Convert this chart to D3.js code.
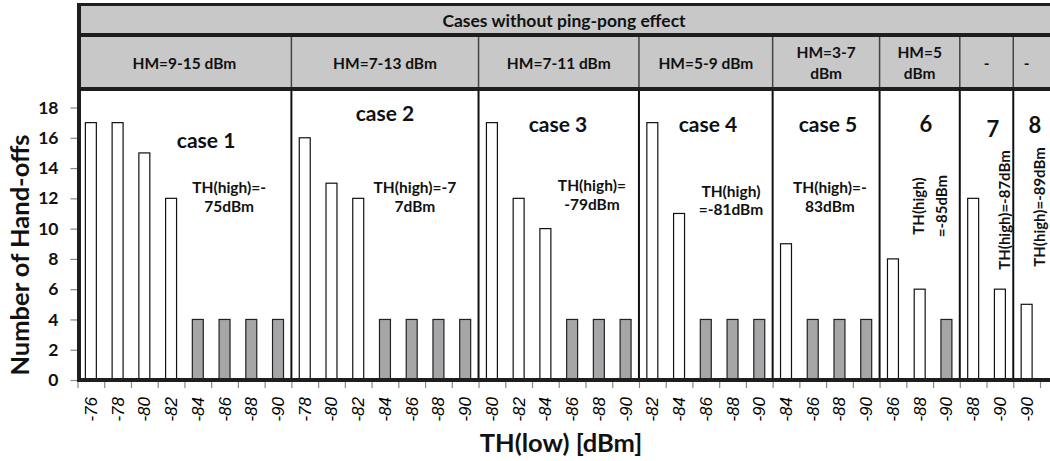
<!DOCTYPE html>
<html>
<head>
<meta charset="utf-8">
<script src="https://cdn.jsdelivr.net/npm/d3@7"></script>
<style>
  html, body { margin: 0; padding: 0; background: #fff; }
  svg { display: block; }
</style>
</head>
<body>
<svg id="chart" width="1050" height="461"></svg>
<script>
// ---------------- DATA ----------------
const headerTitle = "Cases without ping-pong effect";
const caseLabels = ["case 1", "case 2", "case 3", "case 4", "case 5", "6", "7", "8"];
const hmLabels = [["HM=9-15 dBm"], ["HM=7-13 dBm"], ["HM=7-11 dBm"], ["HM=5-9 dBm"], ["HM=3-7", "dBm"], ["HM=5", "dBm"], ["-"], ["-"]];
const thHighLabels = [["TH(high)=-", "75dBm"], ["TH(high)=-7", "7dBm"], ["TH(high)=", "-79dBm"], ["TH(high)", "=-81dBm"], ["TH(high)=-", "83dBm"], ["TH(high)", "=-85dBm"], ["TH(high)=-87dBm"], ["TH(high)=-89dBm"]];
// TH(low) tick labels per case
const thLowTicks = [
  ["-76", "-78", "-80", "-82", "-84", "-86", "-88", "-90"],
  ["-78", "-80", "-82", "-84", "-86", "-88", "-90"],
  ["-80", "-82", "-84", "-86", "-88", "-90"],
  ["-82", "-84", "-86", "-88", "-90"],
  ["-84", "-86", "-88", "-90"],
  ["-86", "-88", "-90"],
  ["-88", "-90"],
  ["-90"]
];
// Number of hand-offs: open (white) bars and shaded (grey) bars, per case
const openBars = [
  [17, 17, 15, 12, null, null, null, null],
  [16, 13, 12, null, null, null, null],
  [17, 12, 10, null, null, null],
  [17, 11, null, null, null],
  [9, null, null, null],
  [8, 6, null],
  [12, 6],
  [5]
];
const shadedBars = [
  [null, null, null, null, 4, 4, 4, 4],
  [null, null, null, 4, 4, 4, 4],
  [null, null, null, 4, 4, 4],
  [null, null, 4, 4, 4],
  [null, 4, 4, 4],
  [null, null, 4],
  [null, null],
  [null]
];
const yTicks = [0, 2, 4, 6, 8, 10, 12, 14, 16, 18];
const xTitle = "TH(low) [dBm]";
const yTitle = "Number of Hand-offs";

// ---------------- LAYOUT ----------------
const FONT = "Lato, 'Open Sans', sans-serif";
const svg = d3.select("#chart");
const plotL = 77.5, plotR = 1040, frameR = 1053;
const y0px = 380, y18px = 107.5;
const headTop = 4.5, headMid = 35, headBot = 89;

// flatten categories
const cats = [];
thLowTicks.forEach((arr, ci) => arr.forEach((lab, j) => {
  cats.push({ id: cats.length, caseIdx: ci, label: lab, open: openBars[ci][j], shaded: shadedBars[ci][j] });
}));
const N = cats.length;

const x = d3.scaleBand().domain(cats.map(d => d.id)).range([plotL, plotR]).paddingInner(0.59).paddingOuter(0.295);
const xi = d3.scaleLinear().domain([0, N]).range([plotL, plotR]); // category boundaries
const y = d3.scaleLinear().domain([0, 18]).range([y0px, y18px]);

// case boundaries (index units)
const caseStart = [];
let acc = 0;
thLowTicks.forEach(a => { caseStart.push(acc); acc += a.length; });
const caseEnd = caseStart.map((s, i) => s + thLowTicks[i].length);

// annotation layout in data units: [category-index position, value]
const caseLabelAt = [[4.81, 15.32], [11.5, 17.11], [17.97, 16.38], [23.58, 16.38], [28.07, 16.38], [31.73, 16.38], [34.24, 16.05], [35.81, 16.31]];
const thLabelAt = [[5.67, 12.35], [12.62, 12.35], [19.24, 12.48], [24.44, 12.09], [28.14, 12.35], [31.45, 11.49], [34.65, 11.23], [35.96, 11.43]];

// ---------------- HEADER ----------------
svg.append("rect").attr("x", 79).attr("y", headTop).attr("width", frameR - 79).attr("height", headBot - headTop)
  .attr("fill", "#c8c8c8");

svg.append("text").attr("x", 564).attr("y", (headTop + headMid) / 2 + 0.5)
  .attr("text-anchor", "middle").attr("dominant-baseline", "central")
  .style("font-family", FONT).style("font-weight", "bold").style("font-size", "17.5px").attr("fill", "#111")
  .text(headerTitle);

// inner header dividers
svg.append("g").selectAll("line").data(caseEnd.slice(0, -1)).join("line")
  .attr("x1", d => xi(d)).attr("x2", d => xi(d)).attr("y1", headMid).attr("y2", headBot)
  .attr("stroke", "#444").attr("stroke-width", 1.5);

// HM labels
const hmG = svg.append("g");
hmLabels.forEach((lines, i) => {
  const cx = (xi(caseStart[i]) + xi(caseEnd[i])) / 2;
  const cy = (headMid + headBot) / 2 + 0.5;
  const lh = 21;
  lines.forEach((t, k) => {
    hmG.append("text").attr("x", cx).attr("y", cy + (k - (lines.length - 1) / 2) * lh)
      .attr("text-anchor", "middle").attr("dominant-baseline", "central")
      .style("font-family", FONT).style("font-weight", "bold").style("font-size", "15.5px").attr("fill", "#111")
      .text(t);
  });
});

// ---------------- BARS ----------------
svg.append("g").selectAll("rect").data(cats.filter(d => d.open != null)).join("rect")
  .attr("x", d => x(d.id)).attr("width", x.bandwidth())
  .attr("y", d => y(d.open)).attr("height", d => y(0) - y(d.open))
  .attr("fill", "#fff").attr("stroke", "#111").attr("stroke-width", 1.2);

svg.append("g").selectAll("rect").data(cats.filter(d => d.shaded != null)).join("rect")
  .attr("x", d => x(d.id)).attr("width", x.bandwidth())
  .attr("y", d => y(d.shaded)).attr("height", d => y(0) - y(d.shaded))
  .attr("fill", "#a6a6a8").attr("stroke", "#222").attr("stroke-width", 1.2);

// plot-area case dividers
svg.append("g").selectAll("line").data(caseEnd.slice(0, -1)).join("line")
  .attr("x1", d => xi(d)).attr("x2", d => xi(d)).attr("y1", headBot).attr("y2", y0px)
  .attr("stroke", "#111").attr("stroke-width", 2);

// ---------------- ANNOTATIONS ----------------
const annG = svg.append("g").style("font-family", FONT).style("font-weight", "bold").attr("fill", "#111");
caseLabels.forEach((t, i) => {
  annG.append("text").attr("x", xi(caseLabelAt[i][0])).attr("y", y(caseLabelAt[i][1]))
    .attr("text-anchor", "middle").style("font-size", i >= 5 ? "22px" : "21px").text(t);
});
thHighLabels.forEach((lines, i) => {
  const [ix, v] = thLabelAt[i];
  if (i < 5) {
    lines.forEach((t, k) => {
      annG.append("text").attr("x", xi(ix)).attr("y", y(v) + k * 18.5)
        .attr("text-anchor", "middle").style("font-size", "15.5px").text(t);
    });
  } else {
    lines.forEach((t, k) => {
      const cx = xi(ix) + k * 22.5;
      annG.append("text").attr("transform", `translate(${cx},${y(v)}) rotate(-90)`)
        .attr("text-anchor", "middle").attr("dominant-baseline", "central")
        .style("font-size", "15px").text(t);
    });
  }
});

// ---------------- AXES ----------------
// y axis
const yAxis = svg.append("g").attr("transform", `translate(${plotL},0)`)
  .call(d3.axisLeft(y).tickValues(yTicks).tickSize(7).tickPadding(12));
yAxis.select(".domain").remove();
yAxis.selectAll(".tick line").attr("stroke", "#888").attr("stroke-width", 1.2);
yAxis.selectAll(".tick text").style("font-family", FONT).style("font-weight", "bold").style("font-size", "17.5px").attr("fill", "#111");

// x axis tick marks at category boundaries
const xTickAxis = svg.append("g").attr("transform", `translate(0,${y0px})`)
  .call(d3.axisBottom(xi).tickValues(d3.range(N + 1)).tickFormat("").tickSize(8));
xTickAxis.select(".domain").remove();
xTickAxis.selectAll(".tick line").attr("stroke", "#888").attr("stroke-width", 1.2);

// x axis labels
const xLab = svg.append("g").attr("transform", `translate(0,${y0px})`)
  .call(d3.axisBottom(x).tickFormat(i => cats[i].label).tickSize(0));
xLab.select(".domain").remove();
xLab.selectAll(".tick text")
  .attr("transform", "translate(0.5,17) rotate(-90)")
  .attr("x", 0).attr("y", 0).attr("dy", null)
  .attr("text-anchor", "end").attr("dominant-baseline", "central")
  .style("font-family", "'Liberation Sans', Arial, sans-serif").style("font-style", "italic")
  .style("font-size", "17px").attr("fill", "#000");

// frame lines (on top)
const frame = svg.append("g").attr("stroke", "#1e1e1e").attr("fill", "none");
frame.append("line").attr("x1", 79).attr("x2", 79).attr("y1", 3).attr("y2", y0px + 2).attr("stroke-width", 4);
frame.append("line").attr("x1", 77).attr("x2", frameR).attr("y1", headTop).attr("y2", headTop).attr("stroke-width", 3);
frame.append("line").attr("x1", 77).attr("x2", frameR).attr("y1", headMid).attr("y2", headMid).attr("stroke-width", 4);
frame.append("line").attr("x1", 77).attr("x2", frameR).attr("y1", headBot).attr("y2", headBot).attr("stroke-width", 4);
frame.append("line").attr("x1", 77).attr("x2", frameR).attr("y1", y0px).attr("y2", y0px).attr("stroke-width", 4);

// axis titles
svg.append("text").attr("x", 561).attr("y", 452)
  .attr("text-anchor", "middle")
  .style("font-family", FONT).style("font-weight", "bold").style("font-size", "25.5px").attr("fill", "#111")
  .text(xTitle);
svg.append("text").attr("transform", "translate(19,255) rotate(-90)")
  .attr("text-anchor", "middle").attr("dominant-baseline", "central")
  .style("font-family", FONT).style("font-weight", "bold").style("font-size", "25.5px").attr("fill", "#111")
  .text(yTitle);
</script>
</body>
</html>
